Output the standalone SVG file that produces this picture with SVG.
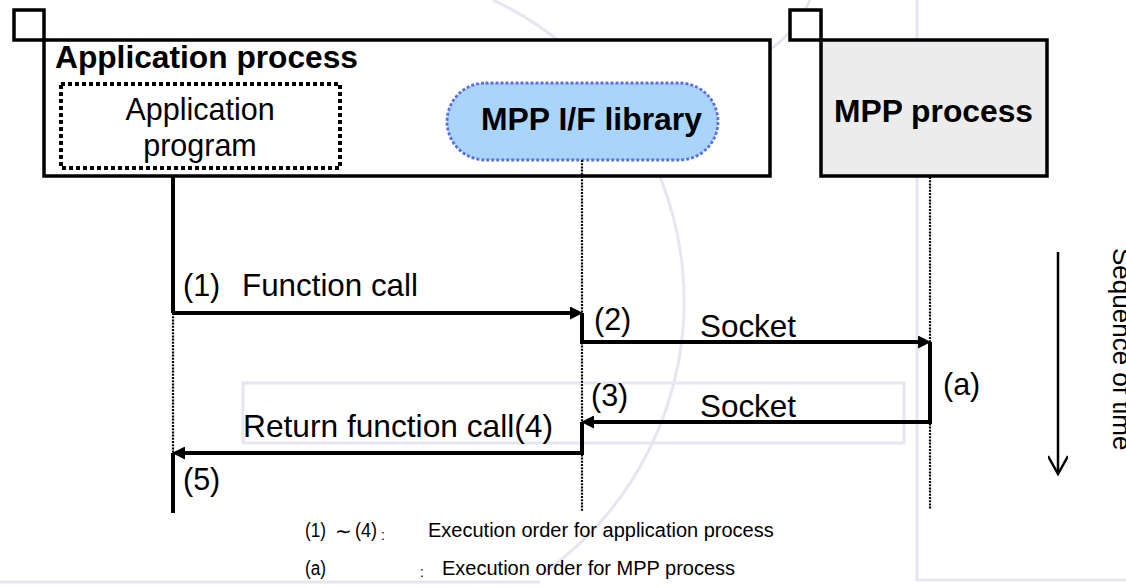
<svg xmlns="http://www.w3.org/2000/svg" width="1126" height="588" viewBox="0 0 1126 588">
<style>
  .t { font-family: "Liberation Sans", Arial, sans-serif; fill: #000; }
  .b { font-weight: bold; }
  .box { stroke: #000; stroke-width: 3.5; }
  .life { stroke: #000; stroke-width: 2.2; stroke-dasharray: 2 1.2; fill: none; }
  .msg { stroke: #000; stroke-width: 4; fill: none; }
  .wm { stroke: #e6e6f3; stroke-width: 3; fill: none; }
</style>
<defs>
  <marker id="ah" viewBox="0 0 13 13" refX="6" refY="6.5" markerWidth="13" markerHeight="13" markerUnits="userSpaceOnUse" orient="auto">
    <path d="M0,0 L13,6.5 L0,13 z" fill="#000"/>
  </marker>
  <marker id="chev" viewBox="0 0 24 20" refX="20" refY="10" markerWidth="24" markerHeight="20" markerUnits="userSpaceOnUse" orient="auto">
    <path d="M2,0 L20,10 L2,20" fill="none" stroke="#000" stroke-width="2.5"/>
  </marker>
</defs>
<rect width="1126" height="588" fill="#fff"/>
<g id="watermark">
  <path class="wm" d="M493,0 A333,333 0 0 1 545,572"/>
  <path class="wm" d="M810,0 Q780,70 680,78"/>
  <path class="wm" d="M917,0 V580 H1126"/>
  <path class="wm" d="M0,582 H540"/>
  <rect class="wm" x="243" y="383" width="661" height="60" stroke-width="2"/>
</g>
<g id="app-process">
  <rect class="box" x="14" y="10" width="30" height="30" fill="#fff"/>
  <rect class="box" x="44" y="40" width="726" height="136" fill="#fff"/>
  <text class="t b" x="55" y="68" font-size="31.5" textLength="303" lengthAdjust="spacingAndGlyphs">Application process</text>
</g>
<g id="app-program">
  <rect x="61" y="84" width="279" height="84" fill="none" stroke="#000" stroke-width="4" stroke-dasharray="4 3"/>
  <text class="t" x="200" y="120" font-size="30.5" text-anchor="middle">Application</text>
  <text class="t" x="200" y="156" font-size="30.5" text-anchor="middle">program</text>
</g>
<g id="mpp-if-library">
  <rect x="447" y="83" width="271" height="77" rx="38.5" ry="38.5" fill="#a9d4fb" stroke="#5a6ee6" stroke-width="2.8" stroke-dasharray="3 2"/>
  <text class="t b" x="481" y="130" font-size="31.5" textLength="221" lengthAdjust="spacingAndGlyphs">MPP I/F library</text>
</g>
<g id="mpp-process">
  <rect class="box" x="790" y="10" width="31" height="30" fill="#fff"/>
  <rect class="box" x="821" y="40" width="226" height="136" fill="#ececec"/>
  <text class="t b" x="834" y="122" font-size="31.5" textLength="199" lengthAdjust="spacingAndGlyphs">MPP process</text>
</g>
<g id="connectors">
  <line class="life" x1="173" y1="313" x2="173" y2="453"/>
  <line class="life" x1="582" y1="160" x2="582" y2="512"/>
  <line class="life" x1="930" y1="177" x2="930" y2="509"/>
  <line class="msg" x1="173" y1="177" x2="173" y2="313"/>
  <path class="msg" d="M173,313 H576" marker-end="url(#ah)"/>
  <path class="msg" d="M582,313 V342 H924" marker-end="url(#ah)"/>
  <path class="msg" d="M930,342 V422 H588" marker-end="url(#ah)"/>
  <path class="msg" d="M582,422 V453 H179" marker-end="url(#ah)"/>
  <line class="msg" x1="173" y1="453" x2="173" y2="513"/>
  <path d="M1058,252 V474" stroke="#000" stroke-width="2.5" fill="none" marker-end="url(#chev)"/>
</g>
<g id="labels" class="t" font-size="30.5">
  <text x="183" y="296">(1)</text>
  <text x="242" y="296" textLength="176" lengthAdjust="spacingAndGlyphs">Function call</text>
  <text x="594" y="330">(2)</text>
  <text x="700" y="337" textLength="96" lengthAdjust="spacingAndGlyphs">Socket</text>
  <text x="943" y="395">(a)</text>
  <text x="591" y="406">(3)</text>
  <text x="700" y="417" textLength="96" lengthAdjust="spacingAndGlyphs">Socket</text>
  <text x="243" y="437" textLength="310" lengthAdjust="spacingAndGlyphs">Return function call(4)</text>
  <text x="183" y="490">(5)</text>
  <text transform="translate(1113,248) rotate(90)" font-size="26">Sequence of time</text>
</g>
<g id="legend" class="t" font-size="20">
  <text x="305" y="537" textLength="21" lengthAdjust="spacingAndGlyphs">(1)</text>
  <text x="335" y="538" font-size="20">∼</text>
  <text x="355" y="537" textLength="22" lengthAdjust="spacingAndGlyphs">(4)</text>
  <text x="381" y="540" font-size="14">:</text>
  <text x="428" y="537">Execution order for application process</text>
  <text x="305" y="575" textLength="21" lengthAdjust="spacingAndGlyphs">(a)</text>
  <text x="420" y="577" font-size="14">:</text>
  <text x="442" y="575">Execution order for MPP process</text>
</g>
</svg>
